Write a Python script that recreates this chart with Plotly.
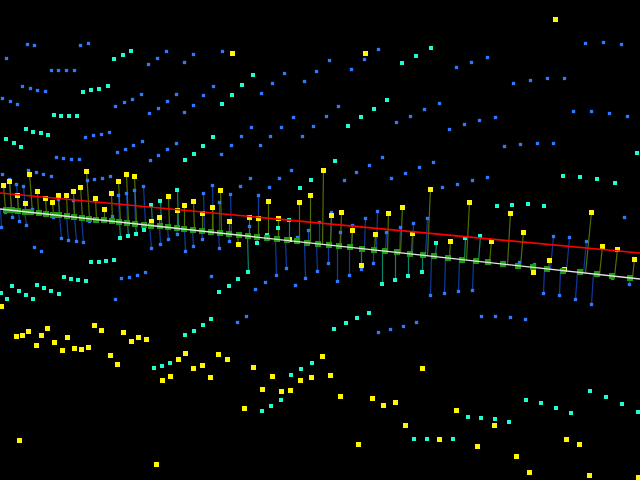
import plotly.graph_objects as go

yellow_free = [(232,53),(365,53),(555,19),(1,306),(16,336),(22,335),(28,331),(47,328),(41,335),(36,345),(54,342),(67,337),(62,350),(74,348),(81,349),(88,347),(94,325),(101,330),(110,355),(117,364),(123,332),(131,341),(138,337),(146,339),(162,380),(170,376),(178,359),(185,353),(193,368),(202,365),(210,377),(218,354),(227,359),(253,367),(272,376),(262,389),(281,391),(290,390),(300,380),(311,377),(244,408),(19,440),(156,464),(322,356),(330,375),(340,396),(372,398),(383,405),(395,402),(422,368),(405,425),(358,444),(439,439),(456,410),(494,425),(477,446),(516,456),(529,472),(566,439),(579,444),(589,475),(638,477)]
yellow_stem = [(3,185),(9,181),(29,174),(17,195),(37,191),(45,198),(25,203),(52,202),(58,195),(66,195),(73,191),(80,187),(86,171),(95,198),(104,209),(111,193),(118,181),(126,174),(134,176),(151,221),(159,217),(168,196),(177,210),(184,205),(193,201),(202,213),(212,207),(220,190),(229,221),(238,244),(249,217),(258,218),(268,201),(278,218),(289,239),(299,202),(310,195),(323,170),(331,215),(341,212),(352,230),(361,265),(375,234),(388,213),(402,207),(412,233),(430,189),(450,241),(469,202),(491,241),(510,213),(523,232),(533,272),(549,260),(564,269),(591,212),(602,246),(617,249),(634,259)]
cyan_free = [(114,59),(123,55),(131,51),(83,92),(91,90),(99,89),(108,86),(54,115),(61,116),(69,116),(77,116),(26,129),(33,132),(41,133),(48,135),(6,139),(14,143),(21,147),(253,75),(242,85),(232,95),(222,104),(213,137),(203,146),(194,154),(185,160),(402,63),(416,56),(431,48),(348,126),(361,117),(374,109),(387,100),(637,153),(335,161),(311,180),(300,188),(563,176),(580,177),(597,179),(615,183),(497,206),(512,205),(528,204),(544,206),(91,262),(99,262),(106,261),(114,260),(64,277),(71,279),(78,280),(86,281),(12,286),(19,291),(26,295),(33,299),(37,285),(44,288),(51,291),(59,294),(1,293),(7,299),(238,279),(229,286),(219,292),(369,313),(357,318),(346,323),(334,329),(185,335),(194,331),(203,325),(211,319),(154,368),(162,366),(170,363),(262,411),(271,406),(281,400),(291,375),(301,369),(312,363),(414,439),(427,439),(453,439),(468,417),(481,418),(495,419),(509,422),(526,400),(541,403),(556,408),(571,413),(590,391),(606,397),(622,404),(638,412)]
cyan_stem = [(151,205),(160,201),(177,190),(120,238),(128,236),(136,234),(144,230),(248,272),(257,243),(267,235),(278,228),(289,220),(382,284),(395,280),(408,276),(422,272),(436,243),(465,238),(480,236)]
blue_free = [(27,44),(34,45),(80,45),(88,43),(6,58),(51,70),(58,70),(66,70),(74,70),(148,64),(157,58),(166,51),(184,62),(193,54),(222,51),(22,86),(30,88),(37,90),(45,91),(2,98),(10,101),(17,104),(115,106),(124,102),(132,99),(141,94),(149,113),(158,108),(167,101),(176,94),(184,112),(193,105),(203,95),(213,86),(261,93),(272,83),(284,73),(304,81),(316,71),(293,117),(281,127),(270,136),(260,145),(313,126),(302,136),(251,127),(241,136),(231,145),(221,154),(85,137),(93,135),(101,134),(109,132),(117,152),(125,149),(133,145),(142,141),(150,160),(158,155),(167,149),(176,143),(56,157),(63,158),(71,159),(79,159),(329,60),(351,69),(364,59),(378,49),(456,67),(471,62),(487,57),(585,43),(603,42),(621,44),(513,83),(530,80),(547,78),(564,78),(326,116),(338,106),(396,122),(410,116),(424,109),(439,103),(449,129),(464,124),(479,120),(495,117),(573,111),(591,111),(609,113),(627,116),(504,146),(520,144),(537,143),(553,143),(382,157),(28,170),(2,174),(36,172),(43,174),(51,176),(87,180),(94,179),(102,178),(110,176),(240,186),(250,178),(269,187),(279,178),(291,170),(344,180),(356,172),(369,165),(391,178),(405,173),(419,167),(433,162),(442,187),(457,184),(472,180),(487,177),(624,217),(34,247),(41,251),(121,278),(129,277),(137,275),(145,272),(211,276),(115,299),(246,316),(255,289),(265,282),(295,285),(481,316),(495,316),(510,317),(525,319),(237,322),(378,332),(390,329),(403,326),(416,322)]
blue_stem = [(9,179),(16,184),(23,186),(58,199),(73,200),(118,195),(126,193),(134,190),(143,186),(203,193),(212,185),(219,202),(230,194),(258,195),(249,226),(319,222),(331,212),(308,230),(297,237),(340,232),(352,225),(365,218),(377,211),(386,232),(400,227),(413,223),(427,218),(553,236),(569,237),(586,241),(503,262),(519,262),(534,264),(612,278),(5,212),(32,209),(53,217),(89,221),(112,216),(12,217),(19,221),(26,225),(1,227),(61,238),(68,240),(76,241),(83,242),(151,248),(160,244),(168,239),(177,234),(185,251),(193,246),(202,239),(219,248),(229,241),(276,275),(286,268),(305,278),(317,271),(328,263),(337,281),(349,275),(361,269),(373,263),(430,295),(444,293),(458,291),(472,290),(543,293),(559,295),(575,299),(591,304),(629,284)]
base_x = [6,12,18,25,31,39,46,53,59,67,74,82,89,96,104,112,119,127,135,144,151,160,168,177,184,193,202,211,220,229,239,248,257,267,277,287,297,307,318,329,339,350,362,374,385,397,410,423,434,448,462,476,488,503,518,533,547,563,580,597,612,630]
white_x = [0, 640]
white_y = [209, 279]
red_x = [0, 640]
red_y = [193, 253]

def line_y(x):
    return white_y[0] + (white_y[1] - white_y[0]) * (x - white_x[0]) / (white_x[1] - white_x[0])

def snap(v, odd):
    return int(v) + 0.5 if odd else float(round(v))

def stems(points):
    xs, ys = [], []
    for x, y in points:
        b = line_y(x)
        xs += [int(x) + 0.5, int(x + 0.0003 * (320 - x) * (b - y)) + 0.5, None]
        ys += [y, b, None]
    return xs, ys

def markers(points, size, color, odd):
    return go.Scatter(x=[snap(p[0], odd) for p in points], y=[snap(p[1], odd) for p in points], mode="markers",
                      marker=dict(symbol="square", size=size, color=color, line=dict(width=0)), hoverinfo="skip")

fig = go.Figure()
for pts, col in ((blue_stem, "#0c3c9c"), (cyan_stem, "#0a8468"), (yellow_stem, "#4f6e00")):
    sx, sy = stems(pts)
    fig.add_trace(go.Scatter(x=sx, y=sy, mode="lines", line=dict(color=col, width=1.2), hoverinfo="skip"))
fig.add_trace(markers(blue_free + blue_stem, 3.3, "#2f78ff", True))
fig.add_trace(markers(cyan_free + cyan_stem, 4, "#1effd0", False))
fig.add_trace(markers(yellow_free + yellow_stem, 5, "#fff700", True))
fig.add_trace(markers([(x, line_y(x)) for x in base_x], 6, "#1f9a10", False))
fig.add_trace(go.Scatter(x=white_x, y=white_y, mode="lines", line=dict(color="#e4e4e4", width=1.3), hoverinfo="skip"))
fig.add_trace(go.Scatter(x=red_x, y=red_y, mode="lines", line=dict(color="#ff0000", width=1.7), hoverinfo="skip"))
fig.update_layout(width=640, height=480, margin=dict(l=0, r=0, t=0, b=0), showlegend=False,
                  paper_bgcolor="#000000", plot_bgcolor="#000000",
                  xaxis=dict(range=[0, 640], visible=False, fixedrange=True),
                  yaxis=dict(range=[480, 0], visible=False, fixedrange=True))
fig.write_html("out.html", config={"displayModeBar": False},
               post_script="document.body.style.margin='0';document.body.style.background='#000';")
